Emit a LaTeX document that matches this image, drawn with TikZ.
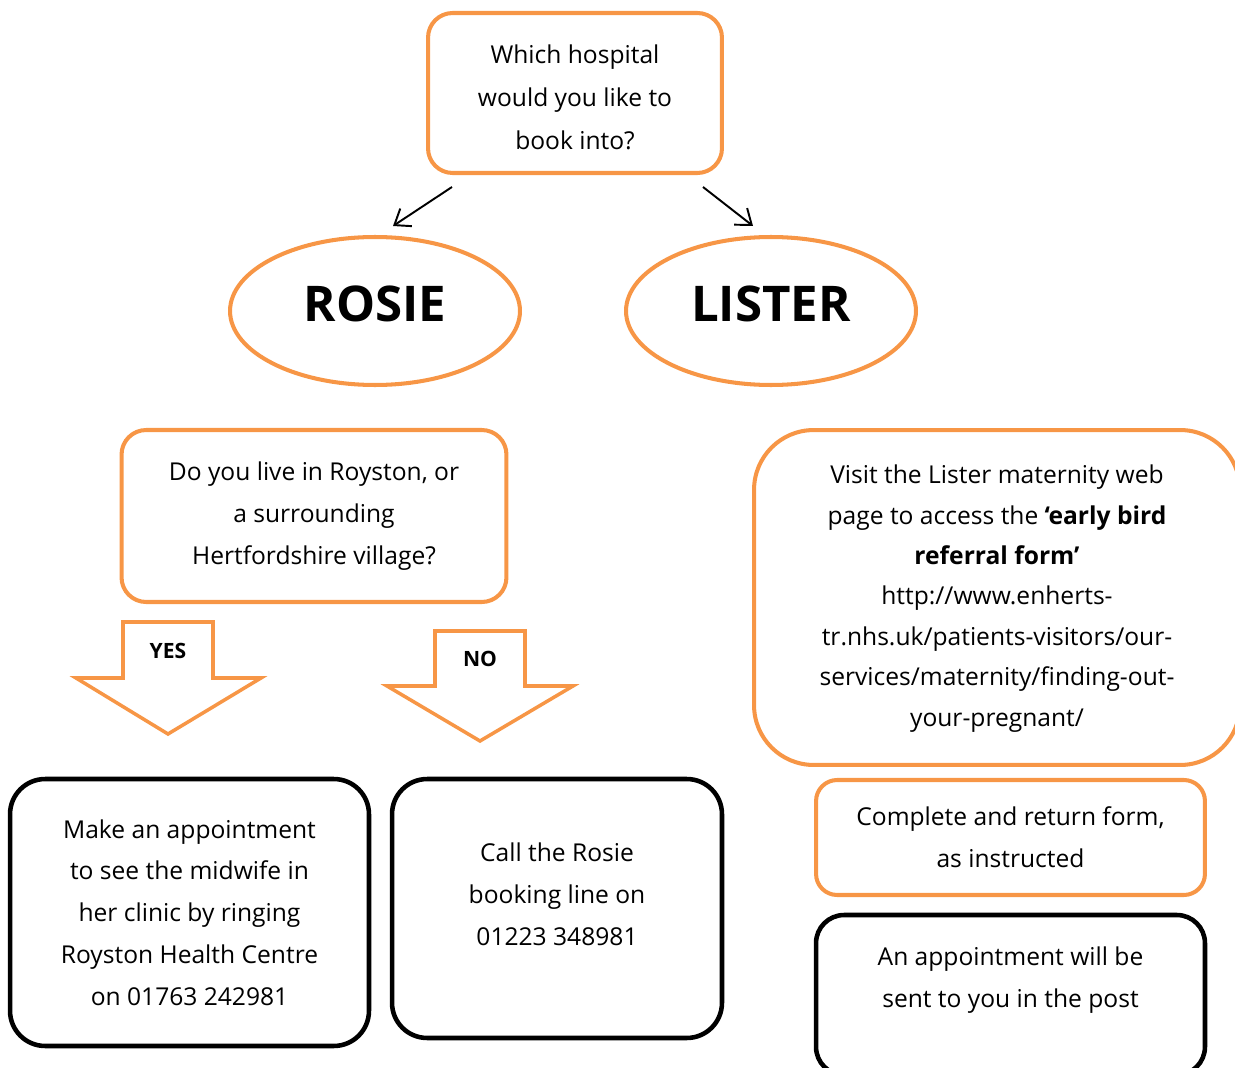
\documentclass[tikz,border=0pt]{standalone}
\usepackage{fontspec}
\setmainfont{Open Sans}
\usetikzlibrary{arrows.meta,shapes.geometric}
\definecolor{nhsorange}{HTML}{F79646}
\tikzset{
  txt/.style={align=center,font=\fontsize{14}{23.8}\selectfont,inner sep=0pt},
  obox/.style={txt,draw=nhsorange,line width=2.3pt,rounded corners=14pt},
  kbox/.style={txt,draw=black,line width=2.6pt,rounded corners=20pt},
  hospital/.style={ellipse,draw=nhsorange,line width=2.3pt,inner sep=0pt,text depth=8pt,
    minimum width=5.8cm,minimum height=2.96cm,font=\bfseries\fontsize{28}{34}\selectfont},
  blockarrow/.style={draw=nhsorange,line width=2pt,line join=miter},
  answer/.style={font=\bfseries\fontsize{12}{14}\selectfont},
  pointer/.style={line width=1.1pt,-{Straight Barb[length=8pt,width=12pt]}}
}
\begin{document}
\begin{tikzpicture}[x=0.02cm,y=-0.02cm]
    \useasboundingbox (0,0) rectangle (1235,1068);

    % question at the top
    \node[obox,minimum width=5.88cm,minimum height=3.2cm] (which) at (575,93) {};
    \node[txt,font=\fontsize{14}{24.4}\selectfont] (whichtext) at (575,97)
        {Which hospital\\would you like to\\book into?};
    \node[hospital] (rosie) at (375,311) {ROSIE};
    \node[hospital] (lister) at (771,311) {LISTER};

    \coordinate (w1) at (452,187);
    \coordinate (r1) at (393,226);
    \coordinate (w2) at (703,187);
    \coordinate (l1) at (753,226);
    \draw[pointer] (w1) -- (r1);
    \draw[pointer] (w2) -- (l1);

    % Rosie side
    \node[obox,minimum width=7.7cm,minimum height=3.44cm] (royston) at (314,516)
        {Do you live in Royston, or\\a surrounding\\Hertfordshire village?};

    \draw[blockarrow] (123,622) -- (213,622) -- (213,678) -- (261,678)
        -- (168,734) -- (76,678) -- (123,678) -- cycle;
    \node[answer] (yes) at (168,651) {YES};
    \draw[blockarrow] (435,631) -- (525,631) -- (525,686) -- (573,686)
        -- (480,741) -- (387,686) -- (435,686) -- cycle;
    \node[answer] (no) at (480,659) {NO};

    \node[kbox,minimum width=7.18cm,minimum height=5.34cm] (clinic) at (189.5,912.5)
        {Make an appointment\\to see the midwife in\\her clinic by ringing\\Royston Health Centre\\on 01763 242981};
    \node[kbox,minimum width=6.6cm,minimum height=5.18cm] (call) at (557,908.5) {};
    \node[txt] (calltext) at (557,894) {Call the Rosie\\booking line on\\01223 348981};

    % Lister side
    \node[obox,rounded corners=34pt,minimum width=9.72cm,minimum height=6.7cm] (web) at (997,597.5) {};
    \node[txt,font=\fontsize{14}{23}\selectfont] (webtext) at (997,598.5)
        {Visit the Lister maternity web\\page to access the \textbf{`early bird}\\\textbf{referral form'}\\http://www.enherts-\\tr.nhs.uk/patients-visitors/our-\\services/maternity/finding-out-\\your-pregnant/};
    \node[obox,rounded corners=12pt,minimum width=7.78cm,minimum height=2.3cm] (form) at (1010.5,837.5)
        {Complete and return form,\\as instructed};
    \node[kbox,rounded corners=16pt,minimum width=7.78cm,minimum height=3.2cm] (post) at (1010.5,995) {};
    \node[txt] (posttext) at (1010.5,980) {An appointment will be\\sent to you in the post};
\end{tikzpicture}
\end{document}
